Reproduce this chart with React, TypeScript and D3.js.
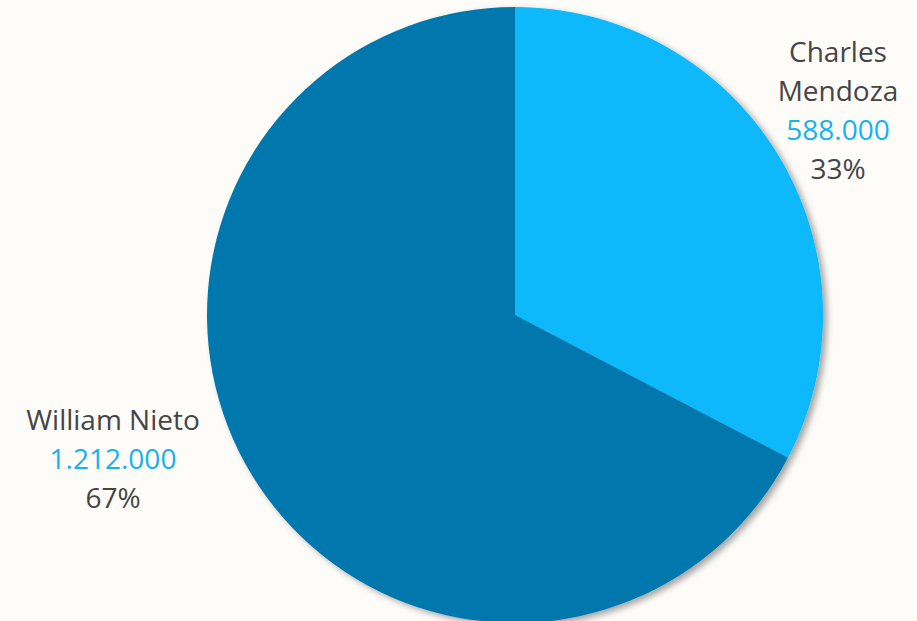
import React from "react";
import * as d3 from "d3";

const names = ["Charles Mendoza", "William Nieto"];
const values = [588000, 1212000];
const nameLines = [["Charles", "Mendoza"], ["William Nieto"]];
const colors = ["#08b8fb", "#0077ad"];

const W = 917, H = 621;
const cx = 515, cy = 315, R = 308;

export default function App() {
  const total = d3.sum(values);
  const pie = d3.pie<number>().sort(null).value((d) => d);
  const arcs = pie(values);
  const arcGen = d3.arc<d3.PieArcDatum<number>>().innerRadius(0).outerRadius(R);
  const fmt = (v: number) => d3.format(",")(v).replace(/,/g, ".");
  const labelPos = [
    { x: 838, y: 62 },
    { x: 113, y: 430 },
  ];
  const lh = 39;
  return (
    <svg width={W} height={H} style={{ position: "absolute", left: 0, top: 0, background: "#fdfcf9" }}
      fontFamily="'Open Sans', 'Segoe UI', sans-serif">
      <defs>
        <filter id="sh" x="-10%" y="-10%" width="125%" height="125%">
          <feDropShadow dx="4" dy="3" stdDeviation="3" floodColor="#000" floodOpacity="0.35" />
        </filter>
      </defs>
      <rect width={W} height={H} fill="#fdfcf9" />
      <g transform={`translate(${cx},${cy})`} filter="url(#sh)">
        {arcs.map((a, i) => (
          <path key={names[i]} d={arcGen(a) || ""} fill={colors[i]} />
        ))}
      </g>
      {arcs.map((a, i) => {
        const p = labelPos[i];
        const lines = nameLines[i];
        return (
          <text key={names[i]} x={p.x} y={p.y} textAnchor="middle" fontSize={28}>
            {lines.map((l, j) => (
              <tspan key={j} x={p.x} dy={j === 0 ? 0 : lh} fill="#454545">{l}</tspan>
            ))}
            <tspan x={p.x} dy={lh} fill="#16b1ef">{fmt(values[i])}</tspan>
            <tspan x={p.x} dy={lh} fill="#454545">{Math.round((values[i] / total) * 100)}%</tspan>
          </text>
        );
      })}
    </svg>
  );
}
